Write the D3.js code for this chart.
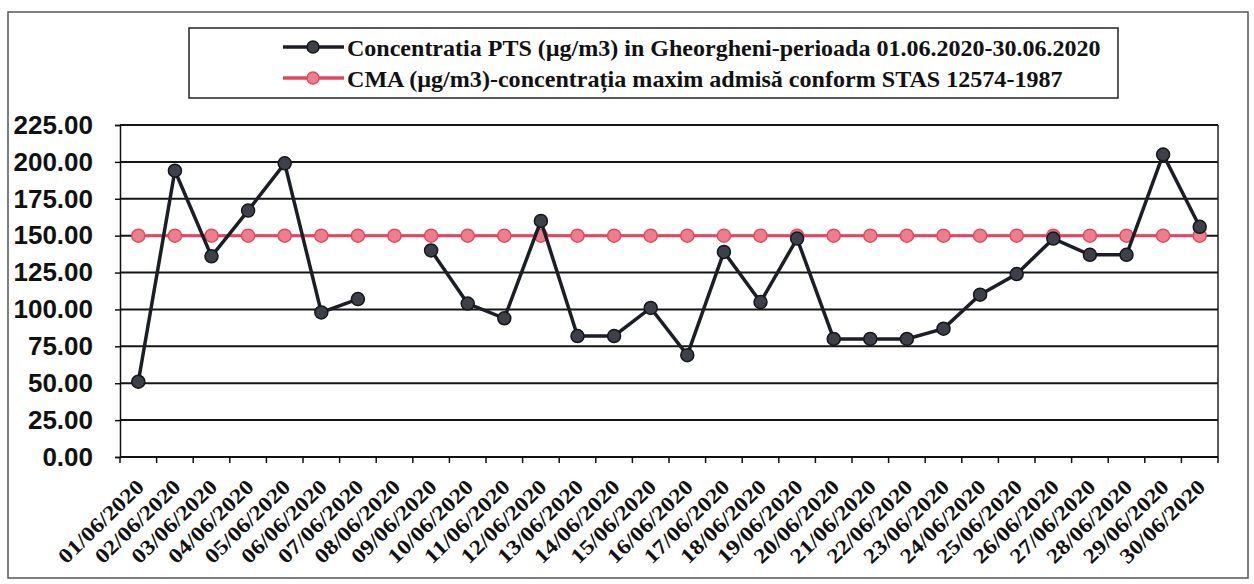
<!DOCTYPE html>
<html><head><meta charset="utf-8">
<script src="https://cdn.jsdelivr.net/npm/d3@7"></script>
<style>html,body{margin:0;padding:0;background:#fff;}</style>
</head><body>
<svg id="c" width="1254" height="584"></svg>
<script>
const dates = ["01/06/2020","02/06/2020","03/06/2020","04/06/2020","05/06/2020","06/06/2020","07/06/2020","08/06/2020","09/06/2020","10/06/2020","11/06/2020","12/06/2020","13/06/2020","14/06/2020","15/06/2020","16/06/2020","17/06/2020","18/06/2020","19/06/2020","20/06/2020","21/06/2020","22/06/2020","23/06/2020","24/06/2020","25/06/2020","26/06/2020","27/06/2020","28/06/2020","29/06/2020","30/06/2020"];
const pts = [51,194,136,167,199,98,107,null,140,104,94,160,82,82,101,69,139,105,148,80,80,80,87,110,124,148,137,137,205,156];
const cma = [150,150,150,150,150,150,150,150,150,150,150,150,150,150,150,150,150,150,150,150,150,150,150,150,150,150,150,150,150,150];
const yTicks = [0,25,50,75,100,125,150,175,200,225];
const legendLabels = ["Concentratia PTS (µg/m3) in Gheorgheni-perioada 01.06.2020-30.06.2020","CMA (µg/m3)-concentrația maxim admisă conform STAS 12574-1987"];

const svg = d3.select("#c");
const L=120, R=1218, T=125, B=457;
const x = d3.scaleBand().domain(dates).range([L,R]);
const y = d3.scaleLinear().domain([0,225]).range([B,T]);

svg.append("rect").attr("x",8).attr("y",12).attr("width",1240).attr("height",566)
  .attr("fill","none").attr("stroke","#555").attr("stroke-width",1.5);

svg.append("g").selectAll("line").data(yTicks).join("line")
  .attr("x1",L).attr("x2",R).attr("y1",d=>y(d)).attr("y2",d=>y(d))
  .attr("stroke","#151515").attr("stroke-width",2);
svg.append("line").attr("x1",R).attr("x2",R).attr("y1",T).attr("y2",B).attr("stroke","#222").attr("stroke-width",1.5);

const ya = svg.append("g").attr("transform",`translate(${L},0)`)
  .call(d3.axisLeft(y).tickValues(yTicks).tickFormat(d3.format(".2f")).tickSize(5).tickPadding(22));
ya.select(".domain").attr("stroke","#111").attr("stroke-width",1.5);
ya.selectAll(".tick line").attr("stroke","#111").attr("stroke-width",1.5);
ya.selectAll("text").style("font-family",'"Liberation Sans"').style("font-weight","bold")
  .style("font-size","26px").attr("fill","#111");

const xa = svg.append("g").attr("transform",`translate(0,${B})`);
xa.append("line").attr("x1",L).attr("x2",R).attr("y1",0).attr("y2",0).attr("stroke","#111").attr("stroke-width",2);
const bounds = dates.map(d=>x(d)).concat([R]);
xa.selectAll("line.t").data(bounds).join("line").attr("class","t")
  .attr("x1",d=>d).attr("x2",d=>d).attr("y1",0).attr("y2",6).attr("stroke","#111").attr("stroke-width",1.5);
xa.selectAll("text").data(dates).join("text")
  .attr("text-anchor","end").attr("dy","0.35em")
  .style("font-family",'"Times New Roman"').style("font-weight","bold").style("font-size","30px")
  .attr("fill","#111").text(d=>d)
  .each(function(d){
    const w = this.getComputedTextLength() || 150;
    d3.select(this).attr("transform",`translate(${x(d)+x.bandwidth()/2+2},${26}) rotate(-44) scale(${110/w},0.7)`);
  });

const cx = (d,i)=>x(dates[i])+x.bandwidth()/2;

const lineC = d3.line().x((d,i)=>cx(d,i)).y(d=>y(d));
svg.append("path").attr("d",lineC(cma)).attr("fill","none").attr("stroke","#e8445f").attr("stroke-width",3);
svg.append("g").selectAll("circle").data(cma).join("circle")
  .attr("cx",(d,i)=>cx(d,i)).attr("cy",d=>y(d)).attr("r",6.5)
  .attr("fill","#ec7f8e").attr("stroke","#e34a62").attr("stroke-width",1.5);

const lineP = d3.line().defined(d=>d!==null).x((d,i)=>cx(d,i)).y(d=>y(d));
svg.append("path").attr("d",lineP(pts)).attr("fill","none").attr("stroke","#1c1e26").attr("stroke-width",3.5);
svg.append("g").selectAll("circle").data(pts.map((v,i)=>({v,i})).filter(d=>d.v!==null)).join("circle")
  .attr("cx",d=>cx(d.v,d.i)).attr("cy",d=>y(d.v)).attr("r",6.5)
  .attr("fill","#3d4048").attr("stroke","#15161c").attr("stroke-width",1.5);

const lg = svg.append("g");
lg.append("rect").attr("x",189).attr("y",28).attr("width",929).attr("height",70)
  .attr("fill","#fff").attr("stroke","#222").attr("stroke-width",1.5);
const legColors = [["#1c1e26","#3d4048","#15161c"],["#e8445f","#ec7f8e","#e34a62"]];
const legLen = [754, 716];
legendLabels.forEach((t,i)=>{
  const yy = 47 + i*31;
  lg.append("line").attr("x1",283).attr("x2",344).attr("y1",yy).attr("y2",yy).attr("stroke",legColors[i][0]).attr("stroke-width",3.5);
  lg.append("circle").attr("cx",313).attr("cy",yy).attr("r",6).attr("fill",legColors[i][1]).attr("stroke",legColors[i][2]).attr("stroke-width",1.5);
  const tx = lg.append("text").attr("dy","0.35em")
    .style("font-family",'"Times New Roman"').style("font-weight","bold").style("font-size","30px")
    .attr("fill","#111").text(t);
  const w = tx.node().getComputedTextLength() || legLen[i];
  tx.attr("transform",`translate(347,${yy+1}) scale(${legLen[i]/w},0.8)`);
});
</script>
</body></html>
